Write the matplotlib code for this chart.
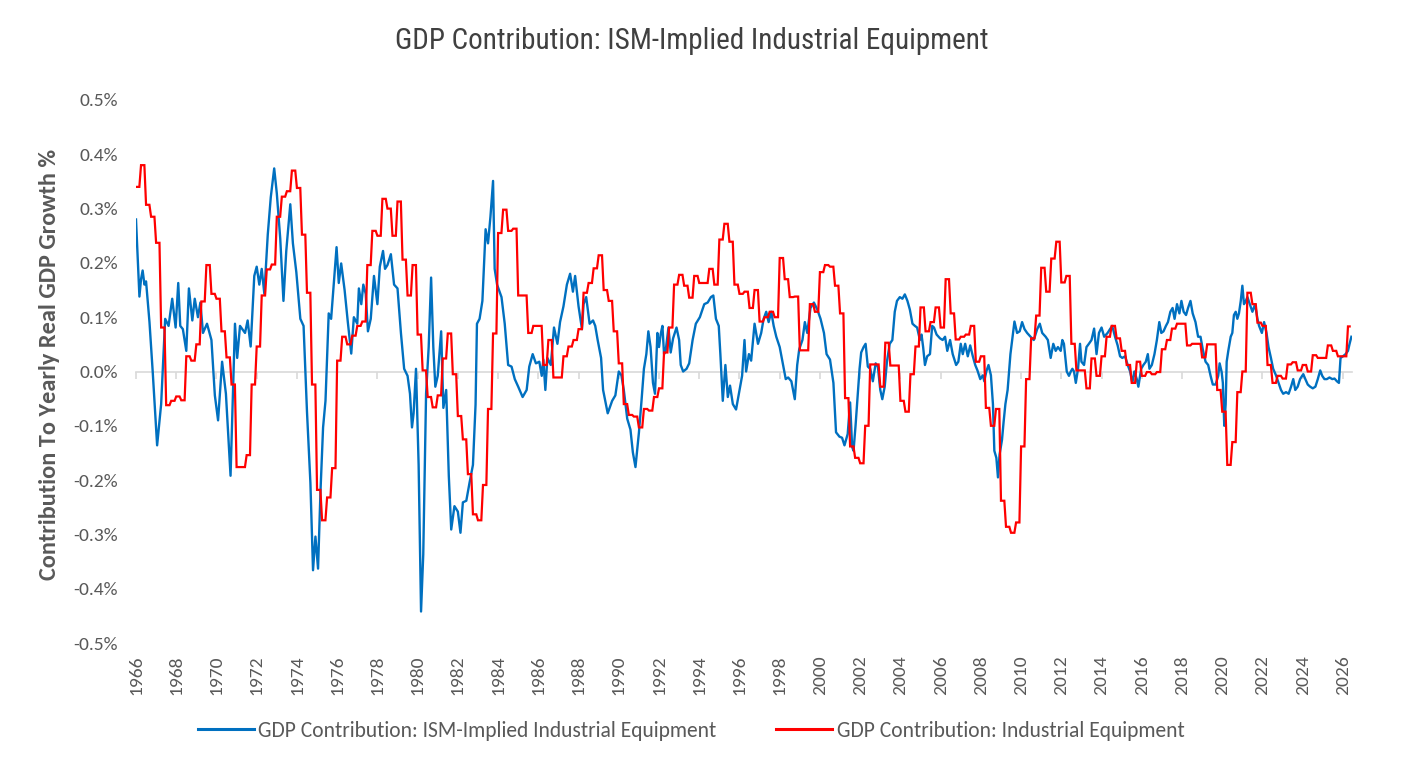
import numpy as np
import matplotlib
matplotlib.use("Agg")
import matplotlib.pyplot as plt
from matplotlib import font_manager

# ---------------- data ----------------
# Blue: GDP Contribution: ISM-Implied Industrial Equipment (monthly, read at vertices)
blue_years = [
    1966.00, 1966.17, 1966.25, 1966.33, 1966.42, 1966.50, 1966.67, 1966.83, 1967.05, 1967.25,
    1967.45, 1967.62, 1967.80, 1967.97, 1968.10, 1968.20, 1968.33, 1968.50, 1968.63, 1968.80,
    1968.92, 1969.08, 1969.20, 1969.33, 1969.53, 1969.75, 1969.92, 1970.08, 1970.28, 1970.47,
    1970.70, 1970.92, 1971.03, 1971.17, 1971.42, 1971.55, 1971.70, 1971.88, 1972.00, 1972.13,
    1972.25, 1972.38, 1972.55, 1972.70, 1972.87, 1973.00, 1973.17, 1973.33, 1973.47, 1973.67,
    1973.80, 1973.97, 1974.17, 1974.33, 1974.50, 1974.67, 1974.80, 1974.92, 1975.05, 1975.17,
    1975.30, 1975.42, 1975.58, 1975.70, 1975.97, 1976.08, 1976.20, 1976.37, 1976.53, 1976.70,
    1976.83, 1977.00, 1977.08, 1977.20, 1977.30, 1977.42, 1977.53, 1977.67, 1977.83, 1978.00,
    1978.12, 1978.28, 1978.38, 1978.50, 1978.67, 1978.83, 1979.00, 1979.17, 1979.33, 1979.50,
    1979.62, 1979.72, 1979.80, 1979.92, 1980.05, 1980.17, 1980.28, 1980.42, 1980.55, 1980.67,
    1980.78, 1980.88, 1981.00, 1981.17, 1981.28, 1981.42, 1981.55, 1981.67, 1981.83, 1982.00,
    1982.13, 1982.25, 1982.42, 1982.58, 1982.75, 1982.88, 1982.95, 1983.08, 1983.22, 1983.38,
    1983.50, 1983.62, 1983.75, 1983.83, 1983.95, 1984.17, 1984.33, 1984.50, 1984.67, 1984.83,
    1985.00, 1985.22, 1985.42, 1985.55, 1985.72, 1985.88, 1986.05, 1986.17, 1986.25, 1986.35,
    1986.45, 1986.62, 1986.78, 1986.95, 1987.08, 1987.25, 1987.42, 1987.58, 1987.72, 1987.83,
    1988.00, 1988.17, 1988.25, 1988.38, 1988.55, 1988.72, 1988.83, 1988.95, 1989.12, 1989.22,
    1989.45, 1989.67, 1989.83, 1990.00, 1990.13, 1990.25, 1990.42, 1990.58, 1990.70, 1990.83,
    1991.00, 1991.13, 1991.25, 1991.37, 1991.47, 1991.58, 1991.70, 1991.80, 1991.92, 1992.00,
    1992.08, 1992.17, 1992.25, 1992.33, 1992.47, 1992.58, 1992.70, 1992.87, 1993.00, 1993.08,
    1993.20, 1993.37, 1993.50, 1993.67, 1993.83, 1994.03, 1994.25, 1994.42, 1994.58, 1994.70,
    1994.83, 1994.97, 1995.05, 1995.17, 1995.30, 1995.42, 1995.53, 1995.67, 1995.83, 1995.97,
    1996.13, 1996.25, 1996.33, 1996.47, 1996.58, 1996.75, 1996.92, 1997.08, 1997.20, 1997.33,
    1997.45, 1997.58, 1997.70, 1997.83, 1998.00, 1998.17, 1998.30, 1998.42, 1998.58, 1998.75,
    1998.87, 1998.97, 1999.13, 1999.25, 1999.37, 1999.53, 1999.70, 1999.87, 2000.03, 2000.20,
    2000.33, 2000.50, 2000.67, 2000.80, 2000.97, 2001.10, 2001.22, 2001.38, 2001.50, 2001.60,
    2001.67, 2001.77, 2001.88, 2001.97, 2002.05, 2002.17, 2002.27, 2002.38, 2002.50, 2002.63,
    2002.77, 2002.88, 2003.00, 2003.10, 2003.22, 2003.33, 2003.47, 2003.60, 2003.72, 2003.83,
    2003.97, 2004.10, 2004.22, 2004.35, 2004.47, 2004.60, 2004.72, 2004.83, 2004.97, 2005.05,
    2005.13, 2005.22, 2005.33, 2005.47, 2005.58, 2005.67, 2005.80, 2005.97, 2006.10, 2006.22,
    2006.33, 2006.47, 2006.60, 2006.77, 2006.88, 2007.00, 2007.10, 2007.22, 2007.35, 2007.47,
    2007.60, 2007.72, 2007.83, 2007.97, 2008.10, 2008.17, 2008.27, 2008.38, 2008.50, 2008.60,
    2008.67, 2008.77, 2008.85, 2008.93, 2009.05, 2009.13, 2009.22, 2009.33, 2009.47, 2009.60,
    2009.67, 2009.80, 2009.93, 2010.05, 2010.17, 2010.30, 2010.47, 2010.63, 2010.80, 2010.93,
    2011.05, 2011.22, 2011.33, 2011.47, 2011.60, 2011.72, 2011.83, 2011.97, 2012.05, 2012.13,
    2012.27, 2012.38, 2012.47, 2012.55, 2012.63, 2012.72, 2012.83, 2012.93, 2013.00, 2013.13,
    2013.25, 2013.37, 2013.50, 2013.63, 2013.75, 2013.87, 2014.00, 2014.13, 2014.30, 2014.42,
    2014.53, 2014.67, 2014.80, 2014.92, 2015.03, 2015.17, 2015.30, 2015.42, 2015.53, 2015.63,
    2015.75, 2015.83, 2015.97, 2016.08, 2016.20, 2016.30, 2016.38, 2016.50, 2016.63, 2016.75,
    2016.87, 2016.97, 2017.08, 2017.20, 2017.30, 2017.42, 2017.53, 2017.63, 2017.75, 2017.87,
    2017.97, 2018.08, 2018.20, 2018.30, 2018.42, 2018.53, 2018.67, 2018.80, 2018.92, 2019.03,
    2019.17, 2019.30, 2019.42, 2019.53, 2019.67, 2019.80, 2019.87, 2019.97, 2020.03, 2020.10,
    2020.17, 2020.22, 2020.30, 2020.42, 2020.50, 2020.58, 2020.67, 2020.75, 2020.83, 2020.92,
    2021.00, 2021.08, 2021.17, 2021.25, 2021.37, 2021.50, 2021.63, 2021.75, 2021.83, 2021.97,
    2022.08, 2022.20, 2022.30, 2022.42, 2022.53, 2022.67, 2022.80, 2022.92, 2023.03, 2023.17,
    2023.30, 2023.42, 2023.53, 2023.63, 2023.75, 2023.87, 2023.97, 2024.03, 2024.13, 2024.25,
    2024.37, 2024.50, 2024.63, 2024.75, 2024.87, 2024.97, 2025.08, 2025.20, 2025.33, 2025.47,
    2025.58, 2025.70, 2025.80, 2025.88, 2026.00, 2026.13, 2026.25, 2026.33, 2026.42,
]
blue_values = [
    0.280, 0.138, 0.170, 0.186, 0.160, 0.166, 0.091, 0.000, -0.136, -0.060,
    0.097, 0.084, 0.134, 0.081, 0.163, 0.084, 0.078, 0.038, 0.153, 0.094,
    0.134, 0.100, 0.127, 0.071, 0.088, 0.058, -0.044, -0.090, 0.018, -0.041,
    -0.192, 0.088, 0.025, 0.084, 0.071, 0.094, 0.046, 0.176, 0.193, 0.160,
    0.189, 0.143, 0.252, 0.321, 0.374, 0.328, 0.245, 0.130, 0.222, 0.308,
    0.236, 0.183, 0.097, 0.084, -0.074, -0.205, -0.366, -0.304, -0.363, -0.222,
    -0.103, -0.054, 0.107, 0.097, 0.229, 0.163, 0.199, 0.150, 0.091, 0.033,
    0.100, 0.088, 0.153, 0.124, 0.160, 0.143, 0.074, 0.097, 0.176, 0.124,
    0.193, 0.222, 0.189, 0.196, 0.216, 0.160, 0.153, 0.071, 0.005, -0.008,
    -0.041, -0.103, -0.077, 0.005, -0.172, -0.442, -0.337, -0.041, 0.045, 0.173,
    0.045, -0.028, -0.008, 0.074, -0.067, -0.034, -0.192, -0.291, -0.248, -0.258,
    -0.297, -0.241, -0.238, -0.205, -0.172, -0.061, 0.088, 0.097, 0.130, 0.262,
    0.236, 0.285, 0.351, 0.189, 0.160, 0.137, 0.088, 0.012, 0.009, -0.014,
    -0.028, -0.047, -0.034, 0.009, 0.032, 0.015, 0.018, -0.008, 0.022, -0.034,
    0.025, 0.012, 0.081, 0.051, 0.091, 0.120, 0.160, 0.180, 0.147, 0.176,
    0.120, 0.078, 0.124, 0.137, 0.088, 0.094, 0.084, 0.058, 0.025, -0.034,
    -0.077, -0.054, -0.044, 0.000, -0.007, -0.034, -0.087, -0.107, -0.149, -0.176,
    -0.113, -0.054, 0.005, 0.032, 0.074, 0.045, -0.021, -0.041, 0.071, 0.045,
    0.068, 0.084, 0.032, 0.038, 0.081, 0.035, 0.061, 0.081, 0.058, 0.012,
    0.000, 0.005, 0.015, 0.058, 0.088, 0.100, 0.124, 0.127, 0.137, 0.140,
    0.097, 0.084, 0.032, -0.054, 0.012, -0.047, -0.026, -0.060, -0.070, -0.041,
    -0.008, 0.058, 0.000, 0.032, 0.020, 0.088, 0.051, 0.071, 0.097, 0.110,
    0.091, 0.110, 0.084, 0.064, 0.045, 0.012, -0.014, -0.011, -0.018, -0.051,
    0.012, 0.041, 0.058, 0.091, 0.071, 0.117, 0.127, 0.114, 0.097, 0.071,
    0.032, 0.022, -0.021, -0.112, -0.120, -0.122, -0.136, -0.115, -0.057, -0.139,
    -0.146, -0.100, -0.041, 0.005, 0.035, 0.045, 0.051, 0.009, 0.005, -0.018,
    0.015, 0.009, -0.034, -0.051, -0.028, 0.018, 0.051, 0.058, 0.110, 0.130,
    0.137, 0.134, 0.142, 0.130, 0.114, 0.088, 0.084, 0.081, 0.058, 0.068,
    0.045, 0.012, 0.028, 0.032, 0.084, 0.081, 0.068, 0.061, 0.058, 0.064,
    0.038, 0.058, 0.032, 0.012, 0.018, 0.051, 0.032, 0.051, 0.028, 0.048,
    0.028, 0.012, 0.002, -0.014, -0.007, -0.018, 0.000, 0.012, -0.007, -0.060,
    -0.146, -0.159, -0.195, -0.153, -0.126, -0.093, -0.060, -0.034, 0.032, 0.071,
    0.092, 0.071, 0.074, 0.091, 0.078, 0.071, 0.064, 0.058, 0.078, 0.088,
    0.071, 0.064, 0.058, 0.025, 0.051, 0.038, 0.045, 0.038, 0.058, 0.051,
    0.000, -0.008, 0.000, 0.005, 0.000, -0.021, 0.005, 0.051, 0.018, 0.012,
    0.045, 0.051, 0.058, 0.079, 0.032, 0.071, 0.081, 0.064, 0.071, 0.078,
    0.084, 0.064, 0.048, 0.028, 0.025, 0.028, 0.012, 0.000, -0.021, 0.000,
    -0.014, -0.028, 0.005, 0.012, 0.018, 0.032, 0.005, 0.012, 0.032, 0.058,
    0.091, 0.071, 0.074, 0.084, 0.091, 0.110, 0.117, 0.097, 0.124, 0.107,
    0.130, 0.110, 0.104, 0.117, 0.130, 0.107, 0.091, 0.064, 0.064, 0.041,
    0.018, 0.012, -0.008, -0.024, -0.024, -0.008, 0.015, -0.001, -0.021, -0.100,
    -0.060, 0.018, 0.038, 0.064, 0.071, 0.104, 0.110, 0.097, 0.107, 0.130,
    0.158, 0.124, 0.130, 0.137, 0.124, 0.110, 0.124, 0.097, 0.084, 0.071,
    0.091, 0.071, 0.045, 0.025, 0.005, -0.007, -0.021, -0.034, -0.041, -0.038,
    -0.041, -0.028, -0.014, -0.034, -0.028, -0.014, -0.008, -0.005, -0.014, -0.024,
    -0.028, -0.031, -0.028, -0.014, 0.002, -0.008, -0.014, -0.014, -0.011, -0.014,
    -0.013, -0.018, -0.021, 0.025, 0.028, 0.032, 0.038, 0.051, 0.064,
]

# Red: GDP Contribution: Industrial Equipment (quarterly, from 1966 Q1)
red_start_year = 1966
red_quarterly = [
    0.340, 0.380, 0.307, 0.285,   # 1966
    0.237, 0.081, -0.062, -0.054,  # 1967
    -0.046, -0.053, 0.028, 0.020,  # 1968
    0.050, 0.129, 0.196, 0.143,    # 1969
    0.134, 0.074, 0.026, -0.024,   # 1970
    -0.176, -0.176, -0.154, -0.024,  # 1971
    0.046, 0.140, 0.188, 0.197,    # 1972
    0.285, 0.322, 0.332, 0.370,    # 1973
    0.338, 0.252, 0.145, -0.024,   # 1974
    -0.218, -0.274, -0.232, -0.178,  # 1975
    0.020, 0.064, 0.050, 0.066,    # 1976
    0.084, 0.092, 0.196, 0.259,    # 1977
    0.250, 0.318, 0.300, 0.250,    # 1978
    0.313, 0.206, 0.140, 0.196,    # 1979
    0.068, 0.002, -0.047, -0.066,  # 1980
    -0.044, 0.024, 0.070, -0.005,  # 1981
    -0.082, -0.125, -0.189, -0.263,  # 1982
    -0.274, -0.209, -0.069, 0.070,  # 1983
    0.255, 0.298, 0.259, 0.263,    # 1984
    0.140, 0.140, 0.071, 0.084,    # 1985
    0.084, 0.012, 0.058, -0.011,   # 1986
    -0.011, 0.028, 0.046, 0.058,   # 1987
    0.078, 0.145, 0.163, 0.190,    # 1988
    0.214, 0.150, 0.130, 0.074,    # 1989
    0.015, -0.060, -0.080, -0.083,  # 1990
    -0.103, -0.069, -0.072, -0.047,  # 1991
    -0.031, 0.035, 0.081, 0.160,   # 1992
    0.178, 0.158, 0.136, 0.176,    # 1993
    0.163, 0.163, 0.189, 0.160,    # 1994
    0.243, 0.272, 0.239, 0.160,    # 1995
    0.143, 0.147, 0.117, 0.150,    # 1996
    0.092, 0.100, 0.110, 0.100,    # 1997
    0.209, 0.170, 0.137, 0.138,    # 1998
    0.039, 0.039, 0.124, 0.110,    # 1999
    0.183, 0.196, 0.193, 0.158,    # 2000
    0.107, -0.049, -0.138, -0.159,  # 2001
    -0.169, -0.100, 0.013, 0.013,  # 2002
    -0.028, 0.053, 0.011, 0.011,   # 2003
    -0.054, -0.074, -0.005, 0.046,  # 2004
    0.118, 0.074, 0.091, 0.118,    # 2005
    0.081, 0.170, 0.107, 0.059,    # 2006
    0.064, 0.068, 0.084, 0.018,    # 2007
    0.028, -0.067, -0.100, -0.069,  # 2008
    -0.238, -0.286, -0.297, -0.278,  # 2009
    -0.138, -0.014, 0.061, 0.103,  # 2010
    0.191, 0.147, 0.208, 0.239,    # 2011
    0.164, 0.176, 0.051, 0.002,    # 2012
    0.002, -0.031, 0.024, -0.008,  # 2013
    0.028, 0.064, 0.084, 0.061,    # 2014
    0.038, 0.012, -0.021, 0.018,   # 2015
    -0.008, -0.001, -0.005, -0.001,  # 2016
    0.041, 0.058, 0.079, 0.088,    # 2017
    0.088, 0.048, 0.051, 0.051,    # 2018
    0.026, 0.050, 0.050, -0.034,   # 2019
    -0.074, -0.172, -0.130, -0.038,  # 2020
    0.000, 0.145, 0.124, 0.090,    # 2021
    0.084, 0.012, -0.021, -0.008,  # 2022
    -0.013, 0.013, 0.017, 0.002,   # 2023
    0.012, 0.000, 0.030, 0.025,    # 2024
    0.025, 0.048, 0.038, 0.028,    # 2025
    0.028, 0.083,                  # 2026
]
red_months_total = 725  # Jan 1966 .. May 2026

tick_years = list(range(1966, 2027, 2))
y_ticks = [-0.5, -0.4, -0.3, -0.2, -0.1, 0.0, 0.1, 0.2, 0.3, 0.4, 0.5]

title = "GDP Contribution: ISM-Implied Industrial Equipment"
ylabel = "Contribution To Yearly Real GDP Growth %"
blue_label = "GDP Contribution: ISM-Implied Industrial Equipment"
red_label = "GDP Contribution: Industrial Equipment"

# ---------------- fonts ----------------
available = {f.name for f in font_manager.fontManager.ttflist}
def pick(cands):
    for c in cands:
        if c in available:
            return c
    return "DejaVu Sans"

body_font = pick(["Carlito", "Lato", "Open Sans", "Liberation Sans"])
title_font = pick(["Liberation Sans Narrow", "Roboto Condensed", "Open Sans Condensed", "DejaVu Sans"])
label_font = pick(["Carlito", "Open Sans", "Lato", "Liberation Sans"])

TXT = "#595959"
BLUE = "#0070C0"
RED = "#FF0000"

# ---------------- figure ----------------
W, H = 1412, 783
fig = plt.figure(figsize=(W / 100, H / 100), dpi=100)
fig.patch.set_facecolor("white")

left, right, top, bottom = 136, 1352, 100, 643
ax = fig.add_axes([left / W, 1 - bottom / H, (right - left) / W, (bottom - top) / H])

# red monthly step series
red_monthly = np.repeat(np.array(red_quarterly), 3)[:red_months_total]
red_x = red_start_year + np.arange(red_monthly.size) / 12.0

ax.plot(blue_years, blue_values, color=BLUE, lw=1.7, solid_joinstyle="round", label=blue_label, zorder=3)
ax.plot(red_x, red_monthly, color=RED, lw=1.6, solid_joinstyle="miter", label=red_label, zorder=4)

ax.set_xlim(1966.0, 2026.45)
ax.set_ylim(-0.5, 0.5)

for s in ["top", "right", "left"]:
    ax.spines[s].set_visible(False)
ax.spines["bottom"].set_position(("data", 0))
ax.spines["bottom"].set_color("#D9D9D9")
ax.spines["bottom"].set_linewidth(1.2)
ax.set_xticks(tick_years)
ax.tick_params(axis="x", direction="out", length=5, width=1.2, color="#D9D9D9", labelbottom=False)

ax.set_yticks(y_ticks)
ax.set_yticklabels([f"{v:.1f}%" for v in y_ticks], fontfamily=body_font, fontsize=14, color=TXT)
ax.tick_params(axis="y", length=0, pad=13)

sec = ax.secondary_xaxis("bottom")
sec.set_xticks(tick_years)
sec.set_xticklabels([str(y) for y in tick_years], rotation=90, fontfamily=body_font, fontsize=14, color=TXT)
sec.tick_params(axis="x", length=0, pad=9)
sec.spines["bottom"].set_visible(False)

fig.text(50 / W, 1 - 364 / H, ylabel, rotation=90, ha="center", va="center",
         fontfamily=label_font, fontweight="bold", fontsize=17.5, color=TXT)

fig.text(692 / W, 1 - 41 / H, title, ha="center", va="center",
         fontfamily=title_font, fontsize=21, color="#404040")

leg = fig.legend(loc="center", bbox_to_anchor=(691 / W, 1 - 731 / H), ncol=2, frameon=False,
                 handlelength=2.6, handletextpad=0.2, columnspacing=2.8,
                 prop={"family": body_font, "size": 15.5})
for t in leg.get_texts():
    t.set_color(TXT)
for h in leg.legend_handles:
    h.set_linewidth(2.2)

fig.savefig("out.png", dpi=100, facecolor="white")
